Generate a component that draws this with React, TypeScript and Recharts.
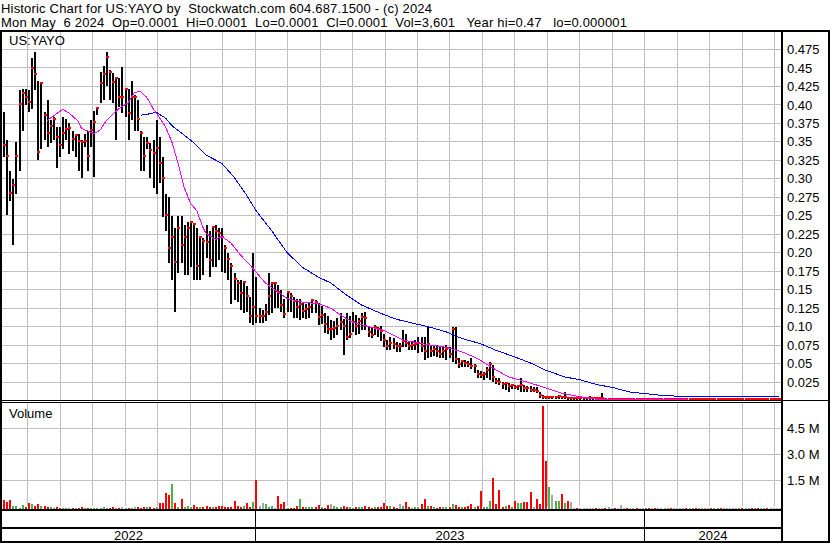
import React from "react";
import { ComposedChart, Bar, Line, XAxis, YAxis, Cell } from "recharts";

const FONT = '"Liberation Sans", Arial, Helvetica, sans-serif';
const GRID = "#c0c0c0";
const UP = "#4cb04c";
const DOWN = "#ff0000";
const FLAT = "#a8a8a8";

// x runs in months counted from Jan 2022 (first bar ~7 May 2022, last 6 May 2024)
const X_START = 4.215;
const X_END = 28.185;
const monthTicks = [5, 6, 7, 8, 9, 10, 11, 12, 13, 14, 15, 16, 17, 18, 19, 20, 21, 22, 23, 24, 25, 26, 27, 28];
const years = ["2022", "2023", "2024"];
const yearStarts = [12, 24];
const priceTicks = [0.025, 0.05, 0.075, 0.1, 0.125, 0.15, 0.175, 0.2, 0.225, 0.25, 0.275, 0.3, 0.325, 0.35, 0.375, 0.4, 0.425, 0.45, 0.475];
const volumeTicks = [1.5, 3, 4.5];

// one bar for every two sessions
const priceHigh = [
    .39, .352, .31, .30, .35, .42, .422, .422, .42, .463,
    .471, .433, .43, .39, .406, .379, .383, .37, .37, .383,
    .381, .375, .365, .361, .361, .352, .361, .365, .379, .392,
    .397, .444, .453, .471, .447, .443, .437, .437, .451, .422,
    .422, .433, .413, .406, .365, .356, .356, .348, .352, .379,
    .356, .329, .28, .275, .25, .233, .25, .25, .237, .241,
    .241, .24, .233, .22, .22, .237, .23, .233, .237, .234,
    .234, .21, .2, .186, .172, .163, .163, .16, .155, .14,
    .2, .167, .125, .122, .13, .172, .16, .16, .156, .15,
    .138, .147, .145, .14, .138, .138, .133, .13, .133, .136,
    .136, .132, .128, .118, .115, .109, .108, .112, .118, .11,
    .118, .115, .12, .116, .112, .118, .12, .1, .098, .102,
    .1, .101, .09, .082, .086, .084, .079, .078, .095, .09,
    .079, .08, .082, .086, .086, .086, .1, .075, .075, .075,
    .072, .074, .075, .072, .1, .1, .057, .055, .055, .054,
    .057, .05, .041, .04, .038, .045, .052, .048, .03, .03,
    .025, .024, .024, .022, .021, .02, .03, .021, .02, .019,
    .018, .018, .012, .008, .005, .005, .005, .005, .005, .006,
    .012, .004, .003, .003, .003, .003, .0025, .003, .006, .003,
    .0025, .002, .01, .002, .0015, .0015, .0012, .0012, .0015, .0012,
    .001, .001, .001, .0012, .001, .001, .0015, .001, .001, .001,
    .0012, .001, .001, .001, .001, .001, .0008, .002, .0008, .0008,
    .0008, .001, .0008, .0008, .0008, .0008, .0008, .0006, .0006, .0008,
    .0006, .0006, .0006, .0006, .0005, .0005, .0008, .0005, .0005, .0005,
    .0005, .0005, .0004, .0004, .0005, .0004, .0004, .0003, .0003, .0002,
];

const priceLow = [
    .329, .251, .27, .21, .28, .31, .365, .40, .39, .395,
    .42, .325, .34, .352, .343, .349, .352, .315, .329, .341,
    .352, .334, .338, .329, .311, .301, .343, .311, .343, .302,
    .386, .403, .406, .426, .406, .402, .352, .397, .389, .383,
    .352, .379, .365, .365, .311, .311, .34, .301, .288, .28,
    .294, .248, .23, .186, .163, .12, .172, .186, .17, .17,
    .181, .163, .163, .163, .17, .193, .167, .18, .181, .19,
    .174, .172, .163, .13, .136, .133, .122, .118, .12, .105,
    .102, .105, .105, .105, .108, .116, .118, .125, .125, .12,
    .111, .12, .12, .111, .112, .109, .111, .11, .112, .118,
    .118, .102, .104, .091, .09, .082, .084, .088, .095, .062,
    .082, .084, .093, .088, .09, .095, .095, .086, .084, .088,
    .086, .08, .072, .068, .068, .07, .065, .066, .072, .072,
    .068, .068, .068, .064, .066, .055, .057, .059, .06, .059,
    .058, .057, .055, .058, .052, .05, .044, .045, .045, .045,
    .042, .037, .03, .03, .028, .03, .028, .025, .022, .021,
    .016, .014, .012, .015, .015, .014, .012, .012, .011, .011,
    .011, .01, .004, .002, .002, .002, .002, .002, .0015, .0015,
    .0015, .001, .001, .001, .001, .001, .001, .001, .001, .001,
    .0008, .0008, .0008, .0005, .0005, .0005, .0004, .0004, .0004, .0004,
    .0003, .0003, .0003, .0003, .0002, .0002, .0002, .0002, .0002, .0002,
    .0002, .0002, .0002, .0002, .0002, .0002, .0002, .0002, .0002, .0002,
    .0002, .0002, .0002, .0002, .0002, .0001, .0001, .0001, .0001, .0001,
    .0001, .0001, .0001, .0001, .0001, .0001, .0001, .0001, .0001, .0001,
    .0001, .0001, .0001, .0001, .0001, .0001, .0001, .0001, .0001, .0001,
];

const priceClose = [
    .345, .33, .28, .29, .33, .40, .415, .41, .402, .449,
    .44, .335, .428, .385, .36, .37, .38, .355, .345, .36,
    .366, .368, .352, .358, .35, .348, .35, .33, .365, .376,
    .395, .428, .44, .463, .443, .43, .435, .41, .41, .42,
    .388, .41, .41, .38, .36, .33, .347, .338, .334, .34,
    .32, .30, .25, .205, .22, .186, .232, .209, .22, .232,
    .24, .238, .18, .22, .215, .213, .189, .233, .228, .225,
    .22, .205, .19, .18, .163, .157, .144, .159, .14, .113,
    .125, .113, .113, .113, .118, .14, .157, .157, .145, .128,
    .116, .145, .14, .133, .125, .129, .12, .122, .125, .134,
    .132, .111, .115, .102, .095, .095, .097, .1, .105, .1,
    .085, .088, .105, .1, .106, .111, .11, .091, .087, .098,
    .095, .093, .08, .072, .077, .075, .072, .072, .079, .076,
    .073, .074, .075, .077, .072, .065, .075, .066, .068, .065,
    .062, .066, .068, .062, .095, .055, .048, .052, .05, .048,
    .045, .046, .035, .033, .034, .04, .048, .03, .025, .024,
    .021, .022, .018, .019, .017, .018, .02, .016, .015, .013,
    .013, .012, .006, .004, .003, .0035, .0035, .004, .0045, .003,
    .0035, .0025, .0025, .0025, .002, .002, .002, .002, .002, .002,
    .0015, .0015, .0015, .001, .001, .001, .0008, .0008, .0008, .0008,
    .0006, .0006, .0006, .0005, .0005, .0005, .0006, .0005, .0005, .0004,
    .0004, .0004, .0004, .0005, .0004, .0004, .0004, .0004, .0004, .0003,
    .0003, .0004, .0003, .0003, .0003, .0003, .0003, .0002, .0002, .0003,
    .0002, .0002, .0002, .0002, .0002, .0002, .0003, .0002, .0002, .0002,
    .0001, .0002, .0001, .0001, .0002, .0001, .0001, .0001, .0001, .0001,
];

// millions of shares
const volume = [
    .52, .42, .52, .17, .15, .08, .23, .12, .33, .3,
    .2, .29, .17, .17, .1, .1, .08, .12, .07, .06,
    .07, .05, .08, .06, .07, .1, .06, .05, .08, .07,
    .06, .08, .1, .07, .08, .1, .06, .08, .09, .07,
    .08, .06, .1, .12, .08, .1, .13, .12, .08, .1,
    .37, .37, .92, .81, 1.44, .37, .12, .58, .13, .17,
    .1, .23, .1, .13, .1, .15, .1, .12, .1, .17,
    .15, .12, .14, .12, .46, .17, .12, .15, .33, .12,
    .38, 1.67, .17, .33, .3, .1, .17, .08, .75, .27,
    .42, .08, .08, .08, .17, .58, .13, .1, .13, .1,
    .13, .23, .13, .08, .23, .29, .17, .1, .12, .17,
    .1, .12, .08, .1, .12, .1, .17, .1, .08, .12,
    .1, .12, .33, .17, .17, .1, .08, .27, .17, .4,
    .1, .08, .1, .13, .29, .58, .17, .17, .1, .08,
    .1, .12, .12, .1, .29, .23, .1, .1, .12, .17,
    .27, .1, .17, 1.04, .12, .12, .46, 1.79, .29, 1.1,
    .13, .17, .23, .1, .46, .33, .37, .4, .4, .98,
    .1, .56, .29, 5.94, 2.77, 1.27, .81, .46, .46, .87,
    .37, .46, .4, .06, .04, .05, .04, .06, .05, .04,
    .08, .05, .06, .04, .1, .05, .04, .06, .23, .05,
    .04, .08, .04, .03, .05, .03, .03, .04, .03, .03,
    .05, .03, .03, .03, .04, .03, .03, .06, .03, .03,
    .03, .04, .03, .03, .05, .03, .03, .03, .03, .04,
    .03, .03, .05, .03, .03, .03, .06, .03, .03, .03,
    .04, .03, .03, .03, .05, .03, .03, .03, .04, .03,
];

// moving averages, read at a handful of bars
const fastMaBar = [14, 16, 19, 21, 24, 25, 28, 29, 31, 33, 37, 40, 42, 44, 46, 48, 50, 52, 54, 56, 58, 60, 62, 64, 65, 68, 70, 73, 76, 80, 84, 88, 91, 96, 101, 105, 108, 112, 118, 122, 128, 133, 137, 142, 147, 152, 157, 162, 168, 174, 179, 185, 190, 198, 249];
const fastMa = [.379, .385, .394, .389, .378, .368, .363, .361, .366, .379, .395, .403, .417, .418, .41, .395, .383, .37, .35, .321, .288, .267, .257, .234, .226, .218, .222, .213, .197, .179, .159, .147, .138, .133, .131, .125, .116, .106, .099, .095, .082, .078, .075, .072, .066, .057, .044, .032, .025, .017, .01, .005, .002, .0008, .0005];
const slowMaBar = [44, 47, 49, 52, 54, 58, 61, 65, 70, 74, 78, 81, 86, 91, 96, 101, 105, 110, 115, 121, 126, 131, 137, 142, 147, 153, 158, 164, 169, 174, 180, 185, 190, 196, 201, 207, 212, 217, 249];
const slowMa = [.386, .388, .39, .382, .372, .359, .349, .332, .321, .302, .278, .257, .23, .2, .18, .167, .159, .143, .129, .118, .11, .105, .099, .093, .084, .077, .068, .059, .051, .041, .032, .028, .022, .017, .0115, .0088, .0065, .0058, .0058];

const STEP = (X_END - X_START) / priceHigh.length;
const barX = (i: number) => X_START + (i + 0.5) * STEP;

const bars = priceHigh.map((high, i) => {
    const close = priceClose[i];
    const prev = i > 0 ? priceClose[i - 1] : Infinity;
    return {
        x: barX(i),
        range: [priceLow[i], high],
        high,
        low: priceLow[i],
        close,
        vol: volume[i],
        tone: close > prev ? UP : close < prev ? DOWN : FLAT,
    };
});
const fastLine = fastMaBar.map((b, k) => ({ x: barX(b), v: fastMa[k] }));
const slowLine = slowMaBar.map((b, k) => ({ x: barX(b), v: slowMa[k] }));

// grid drawn as broken line series (one segment per tick)
const vGrid = (lo: number, hi: number) => monthTicks.flatMap((t) => [{ x: t, v: lo }, { x: t, v: hi }, { x: t, v: null }]);
const hGrid = (ticks: number[]) => ticks.flatMap((t) => [{ x: X_START, v: t }, { x: X_END, v: t }, { x: X_END, v: null }]);

const edges = [X_START, ...yearStarts, X_END];
const yearMids = years.map((_, k) => (edges[k] + edges[k + 1]) / 2);
const yearTicks = [...yearMids, ...yearStarts].sort((a, b) => a - b);

const AXIS_TOP = 107;
const PRICE_DOMAIN = [0, 0.5];
const VOL_DOMAIN = [0, 6.17];
const VOL_GRID_DOMAIN = [-0.156, 6.02];

function HiLoBar(props: any) {
    const { x, y, width, height, payload } = props;
    if (x == null || y == null || !payload) return null;
    const top = Math.min(y, y + height);
    const h = Math.abs(height);
    const span = payload.high - payload.low;
    const cy = span > 0 ? top + ((payload.high - payload.close) / span) * h : top;
    const cx = x + width / 2;
    return (
        <g>
            <rect x={cx - 1} y={top} width={2} height={Math.max(h, 1)} fill="#000" />
            <rect x={cx - 1} y={cy - 2} width={3} height={2} fill={DOWN} />
        </g>
    );
}

function YearTick({ x, payload }: any) {
    const v = payload.value;
    if (yearStarts.includes(v)) {
        return <line x1={x} x2={x} y1={AXIS_TOP} y2={AXIS_TOP + 34} stroke="#000" strokeWidth={1} />;
    }
    const k = yearStarts.filter((s) => s < v).length;
    return (
        <text x={x} y={138} textAnchor="middle" fontSize={13} fontFamily={FONT} fill="#000">
            {years[k]}
        </text>
    );
}

const priceLabel = (v: number) => (Math.round(v * 1000) % 50 === 0 ? v.toFixed(2) : v.toFixed(3));
const TICK = { fill: "#000", fontSize: 13, fontFamily: FONT };
const PRE: React.CSSProperties = { whiteSpace: "pre" };
const CRISP: React.CSSProperties = { shapeRendering: "crispEdges" };
const LAYER: React.CSSProperties = { position: "absolute", left: 0 };

function gridLine(data: any[], extra: any = {}) {
    return (
        <Line data={data} dataKey="v" type="linear" stroke={GRID} strokeWidth={1} dot={false}
            isAnimationActive={false} connectNulls={false} {...extra} />
    );
}

export default function App() {
    return (
        <div style={{ position: "absolute", left: 0, top: 0, width: 830, height: 543, background: "#fff", overflow: "hidden" }}>
            {/* price grid, underneath */}
            <div style={{ ...LAYER, top: 0 }}>
                <ComposedChart width={830} height={401} data={bars} margin={{ top: 31, right: 0, bottom: 0.5, left: 2 }} style={CRISP}>
                    <XAxis type="number" dataKey="x" domain={[X_START, X_END]} allowDataOverflow height={0} tick={false} axisLine={false} tickLine={false} />
                    <YAxis orientation="right" width={49} domain={PRICE_DOMAIN} allowDataOverflow tick={false} axisLine={false} tickLine={false} />
                    {gridLine(vGrid(PRICE_DOMAIN[0], PRICE_DOMAIN[1]))}
                    {gridLine(hGrid(priceTicks))}
                </ComposedChart>
            </div>
            {/* price bars and averages */}
            <div style={{ ...LAYER, top: 0 }}>
                <ComposedChart width={830} height={401} data={bars} margin={{ top: 31, right: 0, bottom: 0.5, left: 2 }} style={CRISP}>
                    <XAxis type="number" dataKey="x" domain={[X_START, X_END]} allowDataOverflow
                        height={0} tick={false} axisLine={false} tickLine={false} />
                    <YAxis orientation="right" width={49} domain={PRICE_DOMAIN} allowDataOverflow ticks={priceTicks}
                        interval={0} axisLine={false} tickLine={false} tickSize={4} tickMargin={2}
                        tick={TICK} tickFormatter={priceLabel} />
                    <Bar dataKey="range" barSize={2} isAnimationActive={false} shape={(p: any) => <HiLoBar {...p} />} />
                    <Line data={slowLine} dataKey="v" type="linear" stroke="#0000ff" strokeWidth={1} dot={false} isAnimationActive={false} />
                    <Line data={fastLine} dataKey="v" type="linear" stroke="#ff00ff" strokeWidth={1} dot={false} isAnimationActive={false} />
                </ComposedChart>
            </div>

            {/* volume grid, underneath */}
            <div style={{ ...LAYER, top: 402 }}>
                <ComposedChart width={830} height={107} data={bars} margin={{ top: 0, right: 0, bottom: 0, left: 2 }} style={CRISP}>
                    <XAxis type="number" dataKey="x" domain={[X_START, X_END]} allowDataOverflow height={0} tick={false} axisLine={false} tickLine={false} />
                    <YAxis orientation="right" width={49} domain={VOL_GRID_DOMAIN} allowDataOverflow tick={false} axisLine={false} tickLine={false} />
                    {gridLine(vGrid(0, 6))}
                    {gridLine(hGrid(volumeTicks))}
                </ComposedChart>
            </div>
            {/* volume bars and year axis */}
            <div style={{ ...LAYER, top: 402 }}>
                <ComposedChart width={830} height={141} data={bars} margin={{ top: 0, right: 0, bottom: 0, left: 2 }} style={CRISP}>
                    <XAxis xAxisId="m" type="number" dataKey="x" domain={[X_START, X_END]} allowDataOverflow
                        height={0} tick={false} axisLine={false} tickLine={false} />
                    <XAxis xAxisId="yr" type="number" dataKey="x" domain={[X_START, X_END]} allowDataOverflow ticks={yearTicks}
                        interval={0} height={34} axisLine={false} tickLine={false} tick={(p: any) => <YearTick {...p} />} />
                    <YAxis yAxisId="vol" hide domain={VOL_DOMAIN} allowDataOverflow />
                    <YAxis yAxisId="grid" orientation="right" width={49} domain={VOL_GRID_DOMAIN} allowDataOverflow
                        ticks={volumeTicks} interval={0} axisLine={false} tickLine={false} tickSize={4} tickMargin={2}
                        tick={TICK} tickFormatter={(v: number) => `${v.toFixed(1)} M`} />
                    <Bar xAxisId="m" yAxisId="vol" dataKey="vol" barSize={2} isAnimationActive={false}>
                        {bars.map((b, i) => <Cell key={i} fill={b.tone} />)}
                    </Bar>
                </ComposedChart>
            </div>

            <svg width={830} height={543} style={{ position: "absolute", left: 0, top: 0, pointerEvents: "none" }}>
                <g fontFamily={FONT} fontSize={13} fill="#000">
                    <text x={1} y={13} style={PRE} textLength={431} lengthAdjust="spacing">Historic Chart for US:YAYO by  Stockwatch.com 604.687.1500 - (c) 2024</text>
                    <text x={1} y={27} style={PRE} textLength={626} lengthAdjust="spacing">Mon May  6 2024  Op=0.0001  Hi=0.0001  Lo=0.0001  Cl=0.0001  Vol=3,601   Year hi=0.47   lo=0.000001</text>
                    <text x={9} y={45}>US:YAYO</text>
                    <text x={9} y={418}>Volume</text>
                </g>
                <g fill="#000" shapeRendering="crispEdges">
                    <rect x={0} y={30} width={830} height={2} />
                    <rect x={0} y={30} width={2} height={513} />
                    <rect x={781} y={30} width={2} height={513} />
                    <rect x={828} y={30} width={2} height={513} />
                    <rect x={0} y={400} width={830} height={1} />
                    <rect x={0} y={402} width={781} height={1} />
                    <rect x={0} y={509} width={781} height={2} />
                    <rect x={0} y={527} width={781} height={2} />
                    <rect x={0} y={541} width={830} height={2} />
                </g>
            </svg>
        </div>
    );
}
